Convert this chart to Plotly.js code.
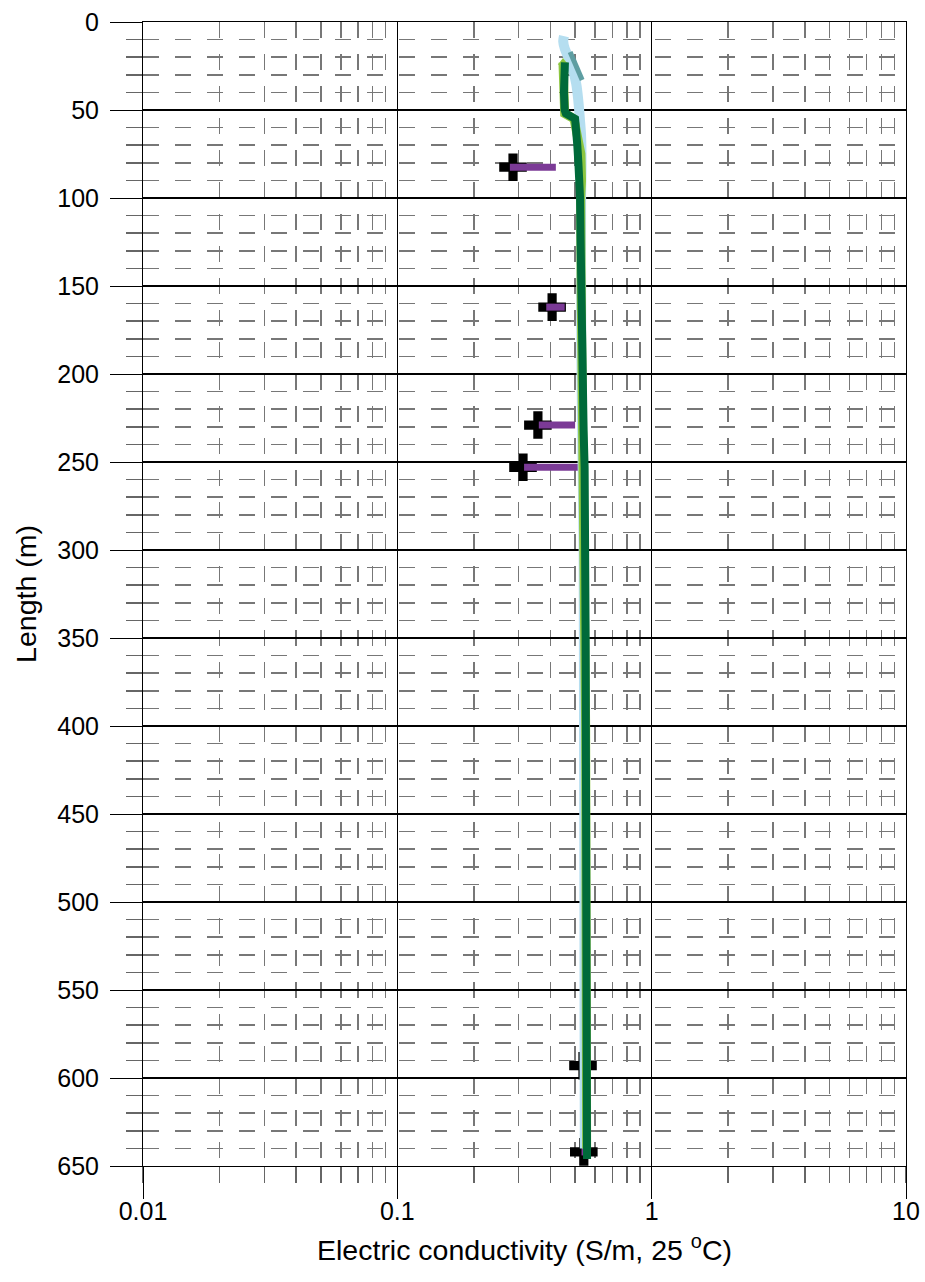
<!DOCTYPE html>
<html>
<head>
<meta charset="utf-8">
<script src="https://cdn.plot.ly/plotly-3.0.1.min.js"></script>
<style>html,body{margin:0;padding:0;background:#fff;}#chart{width:925px;height:1282px;}</style>
</head>
<body>
<div id="chart"></div>
<script>
// ---- data (depth in m, conductivity in S/m) ----
const greenDepth = [23, 30, 40, 50, 52, 55, 60, 70, 80, 90, 100, 120, 150, 180, 200, 228, 232, 253, 260, 300, 350, 400, 450, 500, 550, 600, 646];
const greenCond  = [0.456, 0.452, 0.452, 0.455, 0.46, 0.50, 0.505, 0.51, 0.515, 0.52, 0.523, 0.525, 0.527, 0.53, 0.532, 0.535, 0.54, 0.545, 0.546, 0.548, 0.55, 0.551, 0.552, 0.553, 0.555, 0.556, 0.557];

const blueDepth = [8, 11, 15, 20, 27, 35, 45, 55, 65, 80, 100, 150, 200, 250, 300, 400, 500, 600, 640];
const blueCond  = [0.452, 0.449, 0.455, 0.47, 0.49, 0.505, 0.515, 0.522, 0.528, 0.53, 0.528, 0.528, 0.53, 0.535, 0.54, 0.542, 0.544, 0.545, 0.546];

const tealDepth = [17, 22, 28, 33];
const tealCond  = [0.478, 0.495, 0.515, 0.533];

const ygDepth = [23, 30, 45, 52, 55, 65, 75, 90, 100, 150, 200, 222, 230, 260, 300, 400, 500, 600, 640];
const ygCond  = [0.448, 0.449, 0.45, 0.455, 0.495, 0.515, 0.527, 0.53, 0.526, 0.528, 0.533, 0.542, 0.543, 0.546, 0.548, 0.55, 0.552, 0.554, 0.555];

const purpleDepth = [82.5, 162, 229, 253, 593, 642];
const purpleMin   = [0.277, 0.385, 0.36, 0.315, 0.53, 0.53];
const purpleMax   = [0.42, 0.455, 0.50, 0.52, 0.54, 0.54];

const crossDepth = [82.5, 162, 229, 253, 593, 642];
const crossCond  = [0.285, 0.406, 0.357, 0.312, 0.537, 0.541];

const xTickVals = [0.01, 0.1, 1, 10];
const xTickText = ['0.01', '0.1', '1', '10'];

// ---- build purple segments ----
const px = [], py = [];
purpleDepth.forEach((d, i) => { px.push(purpleMin[i], purpleMax[i], null); py.push(d, d, null); });

const FONT = 'Liberation Sans, Arial, sans-serif';
const TICKSIZE = 25, TITLESIZE = 28.5;

const traces = [
  { x: crossCond, y: crossDepth, mode: 'markers', type: 'scatter',
    marker: { symbol: 'cross', size: 23, color: '#000' }, hoverinfo: 'skip' },
  { x: px, y: py, mode: 'lines', type: 'scatter',
    line: { color: '#7b3a96', width: 7 }, connectgaps: false },
  { x: blueCond, y: blueDepth, mode: 'lines', type: 'scatter',
    line: { color: '#b5def0', width: 10, shape: 'spline' } },
  { x: tealCond, y: tealDepth, mode: 'lines', type: 'scatter',
    line: { color: '#5e9ea2', width: 5 } },
  { x: ygCond, y: ygDepth, mode: 'lines', type: 'scatter',
    line: { color: '#8cc63f', width: 9 } },
  { x: [ygCond[0]], y: [ygDepth[0]], mode: 'markers', type: 'scatter',
    marker: { symbol: 'triangle-up', size: 9, color: '#8cc63f' } },
  { x: greenCond, y: greenDepth, mode: 'lines', type: 'scatter',
    line: { color: '#006a3a', width: 8 } }
];

const minorStyle = { ticks: 'outside', ticklen: 16, tickcolor: '#666', tickwidth: 1.5,
  showgrid: true, gridcolor: '#777', gridwidth: 1.5, griddash: '16px,16px' };

const layout = {
  width: 925, height: 1282,
  margin: { l: 143, r: 19, t: 22, b: 116 },
  paper_bgcolor: '#fff', plot_bgcolor: '#fff',
  showlegend: false,
  font: { family: FONT, size: TICKSIZE, color: '#000' },
  xaxis: {
    type: 'log', range: [-2, 1],
    tickmode: 'array', tickvals: xTickVals, ticktext: xTickText,
    ticks: 'outside', ticklen: 32, tickcolor: '#000', tickwidth: 1,
    ticklabelstandoff: -9,
    showgrid: true, gridcolor: '#000', gridwidth: 1.1,
    showline: true, mirror: true, linecolor: '#000', linewidth: 1,
    zeroline: false,
    tickfont: { family: FONT, size: TICKSIZE },
    minor: Object.assign({ dtick: 'D1' }, minorStyle),
    title: { text: 'Electric conductivity (S/m, 25 <sup>o</sup>C)', font: { family: FONT, size: TITLESIZE }, standoff: 16 },
    automargin: false
  },
  yaxis: {
    range: [650, 0], autorange: false,
    tick0: 0, dtick: 50,
    ticks: 'outside', ticklen: 32, tickcolor: '#000', tickwidth: 1,
    ticklabelstandoff: 6,
    showgrid: true, gridcolor: '#000', gridwidth: 1.1,
    showline: true, mirror: true, linecolor: '#000', linewidth: 1,
    zeroline: false,
    tickfont: { family: FONT, size: TICKSIZE },
    minor: Object.assign({ dtick: 10 }, minorStyle),
    title: { text: 'Length (m)', font: { family: FONT, size: TITLESIZE }, standoff: 12 },
    automargin: false
  }
};

Plotly.newPlot('chart', traces, layout, { displayModeBar: false, staticPlot: true });
</script>
</body>
</html>
